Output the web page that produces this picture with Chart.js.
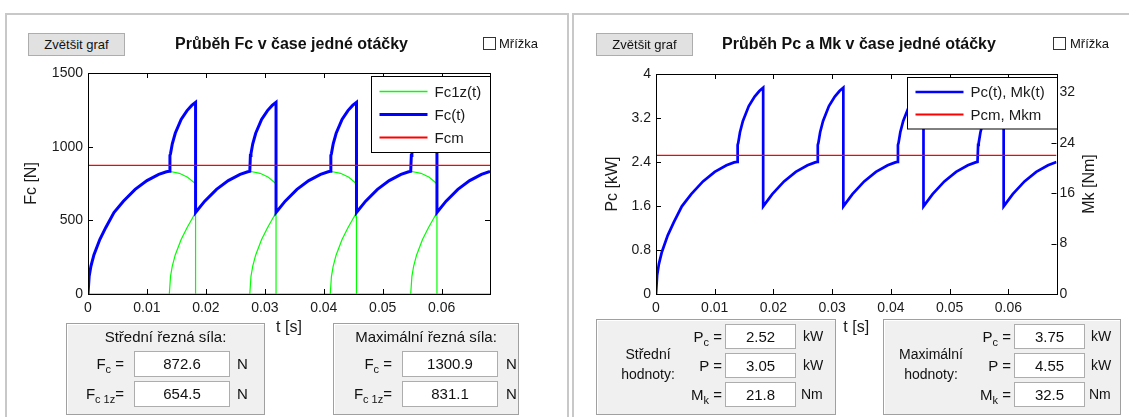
<!DOCTYPE html>
<html>
<head>
<meta charset="utf-8">
<script src="https://cdn.jsdelivr.net/npm/chart.js@4.4.1/dist/chart.umd.min.js"></script>
<style>
  html, body { margin: 0; padding: 0; background: #fff; }
  body { width: 1129px; height: 417px; position: relative; overflow: hidden;
         font-family: 'Liberation Sans', Arial, sans-serif; color: #111; }
  .panel { position: absolute; top: 13px; height: 420px; border: 2px solid #c8c8c8;
           border-bottom: none; box-sizing: border-box; }
  canvas { position: absolute; top: 0; }
  .btn { position: absolute; top: 33px; height: 23px; width: 97px; background: #e1e1e1;
         border: 1px solid #adadad; box-sizing: border-box; font-size: 13px;
         line-height: 21px; text-align: center; }
  .ttl { position: absolute; top: 35px; font-weight: bold; font-size: 16px; line-height: 18px; }
  .chk { position: absolute; top: 37px; width: 13px; height: 13px; background: #fff;
         border: 1px solid #333; box-sizing: border-box; }
  .chkt { position: absolute; top: 36px; font-size: 13px; line-height: 15px; }
  .box { position: absolute; background: #f0f0f0; border: 1px solid #a0a0a0;
         box-shadow: inset 1px 1px 0 #fff; box-sizing: border-box; }
  .t { position: absolute; font-size: 15px; line-height: 26px; white-space: nowrap; }
  .r { text-align: right; }
  .c { text-align: center; }
  .inp { position: absolute; background: #fff; border: 1px solid #adadad; box-sizing: border-box;
         font-size: 15px; text-align: center; }
  sub { font-size: 11px; vertical-align: -4px; line-height: 0; }
</style>
</head>
<body>
<div class="panel" style="left:5px;width:564px"></div>
<div class="panel" style="left:572px;width:562px"></div>

<canvas id="fcChart" width="565" height="345" style="left:0"></canvas>
<canvas id="pcChart" width="564" height="345" style="left:565px"></canvas>

<div class="btn" style="left:28px">Zvětšit graf</div>
<div class="ttl" style="left:175px">Průběh Fc v čase jedné otáčky</div>
<div class="chk" style="left:483px"></div>
<div class="chkt" style="left:499px">Mřížka</div>

<div class="btn" style="left:596px">Zvětšit graf</div>
<div class="ttl" style="left:722px">Průběh Pc a Mk v čase jedné otáčky</div>
<div class="chk" style="left:1053px"></div>
<div class="chkt" style="left:1070px">Mřížka</div>

<!-- left value boxes -->
<div class="box" style="left:66px;top:323px;width:199px;height:92px"></div>
<div class="t c" style="left:66px;width:199px;top:324px">Střední řezná síla:</div>
<div class="t r" style="left:70px;width:54px;top:351px">F<sub>c</sub> =</div>
<div class="inp" style="left:134px;top:351px;width:96px;height:26px;line-height:24px">872.6</div>
<div class="t" style="left:237px;top:351px">N</div>
<div class="t r" style="left:70px;width:54px;top:381px">F<sub>c 1z</sub>=</div>
<div class="inp" style="left:134px;top:381px;width:96px;height:26px;line-height:24px">654.5</div>
<div class="t" style="left:237px;top:381px">N</div>

<div class="box" style="left:333px;top:323px;width:186px;height:92px"></div>
<div class="t c" style="left:333px;width:186px;top:324px">Maximální řezná síla:</div>
<div class="t r" style="left:336px;width:56px;top:351px">F<sub>c</sub> =</div>
<div class="inp" style="left:402px;top:351px;width:96px;height:26px;line-height:24px">1300.9</div>
<div class="t" style="left:506px;top:351px">N</div>
<div class="t r" style="left:336px;width:56px;top:381px">F<sub>c 1z</sub>=</div>
<div class="inp" style="left:402px;top:381px;width:96px;height:26px;line-height:24px">831.1</div>
<div class="t" style="left:506px;top:381px">N</div>

<!-- right value boxes -->
<div class="box" style="left:596px;top:319px;width:240px;height:96px"></div>
<div class="t c" style="left:608px;width:80px;top:344px;line-height:20px;font-size:14px">Střední<br>hodnoty:</div>
<div class="t r" style="left:682px;width:40px;top:324px;line-height:25px">P<sub>c</sub> =</div>
<div class="inp" style="left:725px;top:324px;width:71px;height:25px;line-height:23px">2.52</div>
<div class="t" style="left:803px;top:324px;line-height:25px;font-size:14px">kW</div>
<div class="t r" style="left:682px;width:40px;top:353px;line-height:25px">P =</div>
<div class="inp" style="left:725px;top:353px;width:71px;height:25px;line-height:23px">3.05</div>
<div class="t" style="left:803px;top:353px;line-height:25px;font-size:14px">kW</div>
<div class="t r" style="left:682px;width:40px;top:382px;line-height:25px">M<sub>k</sub> =</div>
<div class="inp" style="left:725px;top:382px;width:71px;height:25px;line-height:23px">21.8</div>
<div class="t" style="left:801px;top:382px;line-height:25px;font-size:14px">Nm</div>

<div class="box" style="left:883px;top:319px;width:238px;height:96px"></div>
<div class="t c" style="left:891px;width:80px;top:344px;line-height:20px;font-size:14px">Maximální<br>hodnoty:</div>
<div class="t r" style="left:970px;width:41px;top:324px;line-height:25px">P<sub>c</sub> =</div>
<div class="inp" style="left:1014px;top:324px;width:71px;height:25px;line-height:23px">3.75</div>
<div class="t" style="left:1091px;top:324px;line-height:25px;font-size:14px">kW</div>
<div class="t r" style="left:970px;width:41px;top:353px;line-height:25px">P =</div>
<div class="inp" style="left:1014px;top:353px;width:71px;height:25px;line-height:23px">4.55</div>
<div class="t" style="left:1091px;top:353px;line-height:25px;font-size:14px">kW</div>
<div class="t r" style="left:970px;width:41px;top:382px;line-height:25px">M<sub>k</sub> =</div>
<div class="inp" style="left:1014px;top:382px;width:71px;height:25px;line-height:23px">32.5</div>
<div class="t" style="left:1089px;top:382px;line-height:25px;font-size:14px">Nm</div>

<script>
// values: t in s, Fc in N, Pc in kW
const tMax = 0.0682;

const fcTime = [
  0, 0.0002, 0.0005, 0.001, 0.002, 0.003, 0.0044, 0.006, 0.008, 0.010, 0.012, 0.0133, 0.0138,
  0.0139, 0.0140, 0.0143, 0.0148, 0.0158, 0.0168, 0.0176, 0.01825,
  0.01825, 0.0198, 0.0218, 0.0238, 0.0258, 0.0271, 0.02745,
  0.02755, 0.02765, 0.02795, 0.02845, 0.02945, 0.03045, 0.03125, 0.0319,
  0.0319, 0.03345, 0.03545, 0.03745, 0.03945, 0.04075, 0.0411,
  0.0412, 0.0413, 0.0416, 0.0421, 0.0431, 0.0441, 0.0449, 0.04555,
  0.04555, 0.0471, 0.0491, 0.0511, 0.0531, 0.0544, 0.05475,
  0.05485, 0.05495, 0.05525, 0.05575, 0.05675, 0.05775, 0.05855, 0.0592,
  0.0592, 0.06075, 0.06275, 0.06475, 0.06675, 0.0682
];
const fcValues = [
  0, 120, 190, 265, 370, 450, 553, 630, 710, 770, 812, 830, 833,
  940, 953, 1020, 1091, 1185, 1245, 1280, 1301,
  553, 630, 710, 770, 812, 830, 833,
  940, 953, 1020, 1091, 1185, 1245, 1280, 1301,
  553, 630, 710, 770, 812, 830, 833,
  940, 953, 1020, 1091, 1185, 1245, 1280, 1301,
  553, 630, 710, 770, 812, 830, 833,
  940, 953, 1020, 1091, 1185, 1245, 1280, 1301,
  553, 630, 710, 770, 812, 832
];
const pcValues = [
  0, 0.346, 0.548, 0.764, 1.067, 1.297, 1.594, 1.816, 2.047, 2.220, 2.341, 2.393, 2.402,
  2.710, 2.747, 2.941, 3.145, 3.416, 3.589, 3.690, 3.751,
  1.594, 1.816, 2.047, 2.220, 2.341, 2.393, 2.402,
  2.710, 2.747, 2.941, 3.145, 3.416, 3.589, 3.690, 3.751,
  1.594, 1.816, 2.047, 2.220, 2.341, 2.393, 2.402,
  2.710, 2.747, 2.941, 3.145, 3.416, 3.589, 3.690, 3.751,
  1.594, 1.816, 2.047, 2.220, 2.341, 2.393, 2.402,
  2.710, 2.747, 2.941, 3.145, 3.416, 3.589, 3.690, 3.751,
  1.594, 1.816, 2.047, 2.220, 2.341, 2.399
];

// single-tooth force, one run per tooth, null = break in the line
const fc1zTime = [
  0, 0.0682, null,
  0, 0.0002, 0.0005, 0.001, 0.002, 0.003, 0.0044, 0.006, 0.008, 0.010, 0.012, 0.0133, 0.0138, 0.0155, 0.0169, 0.01825, 0.01825, null,
  0.0138, 0.0140, 0.0143, 0.0148, 0.0158, 0.0168, 0.01825, 0.0198, 0.0218, 0.0238, 0.0258, 0.0271, 0.02745, 0.0292, 0.0306, 0.0319, 0.0319, null,
  0.02745, 0.02765, 0.02795, 0.02845, 0.02945, 0.03045, 0.0319, 0.03345, 0.03545, 0.03745, 0.03945, 0.04075, 0.0411, 0.04285, 0.04425, 0.04555, 0.04555, null,
  0.0411, 0.0413, 0.0416, 0.0421, 0.0431, 0.0441, 0.04555, 0.0471, 0.0491, 0.0511, 0.0531, 0.0544, 0.05475, 0.0565, 0.0579, 0.0592, 0.0592, null,
  0.05475, 0.05495, 0.05525, 0.05575, 0.05675, 0.05775, 0.0592, 0.06075, 0.06275, 0.06475, 0.06675, 0.0682
];
const fc1zValues = [
  0, 0, null,
  0, 120, 190, 265, 370, 450, 553, 630, 710, 770, 812, 830, 833, 819, 792, 748, 0, null,
  0, 120, 190, 265, 370, 450, 553, 630, 710, 770, 812, 830, 833, 819, 792, 748, 0, null,
  0, 120, 190, 265, 370, 450, 553, 630, 710, 770, 812, 830, 833, 819, 792, 748, 0, null,
  0, 120, 190, 265, 370, 450, 553, 630, 710, 770, 812, 830, 833, 819, 792, 748, 0, null,
  0, 120, 190, 265, 370, 450, 553, 630, 710, 770, 812, 832
];

const fcMean = 872.6;
const pcMean = 2.52;

const fcLabels = ['Fc1z(t)', 'Fc(t)', 'Fcm'];
const pcLabels = ['Pc(t), Mk(t)', 'Pcm, Mkm'];

const FONT = "'Liberation Sans', Arial, sans-serif";
Chart.defaults.font.family = FONT;
Chart.defaults.color = '#1a1a1a';

function pts(xs, ys) {
  return xs.map((x, i) => ({ x: x, y: ys[i] }));
}
function fmt(v) {
  return String(+v.toFixed(3));
}

// MATLAB look: boxed axes, inward ticks, legend inside the plot
const matlabAxes = {
  id: 'matlabAxes',
  afterDatasetsDraw(chart) {
    const { ctx, chartArea: a, scales } = chart;
    const tl = 5;
    const line = (x1, y1, x2, y2) => { ctx.moveTo(x1, y1); ctx.lineTo(x2, y2); };
    ctx.save();
    ctx.strokeStyle = '#000';
    ctx.lineWidth = 1;
    ctx.beginPath();
    scales.x.ticks.forEach(t => {
      const px = Math.round(scales.x.getPixelForValue(t.value)) + 0.5;
      line(px, a.bottom, px, a.bottom - tl);
      line(px, a.top, px, a.top + tl);
    });
    scales.y.ticks.forEach(t => {
      const py = Math.round(scales.y.getPixelForValue(t.value)) + 0.5;
      line(a.left, py, a.left + tl, py);
      if (!scales.y2) line(a.right, py, a.right - tl, py);
    });
    if (scales.y2) {
      scales.y2.ticks.forEach(t => {
        const py = Math.round(scales.y2.getPixelForValue(t.value)) + 0.5;
        line(a.right, py, a.right - tl, py);
      });
    }
    ctx.stroke();
    ctx.strokeRect(Math.round(a.left) + 0.5, Math.round(a.top) + 0.5,
      Math.round(a.right - a.left), Math.round(a.bottom - a.top));
    ctx.restore();
  },
  afterDraw(chart, args, opts) {
    const { ctx, chartArea: a } = chart;
    if (opts.y2Title) {
      ctx.save();
      ctx.translate(opts.y2Title.x, (a.top + a.bottom) / 2);
      ctx.rotate(-Math.PI / 2);
      ctx.font = '16px ' + FONT;
      ctx.fillStyle = '#1a1a1a';
      ctx.textAlign = 'center';
      ctx.textBaseline = 'middle';
      ctx.fillText(opts.y2Title.text, 0, 0);
      ctx.restore();
    }
    const lg = opts.legend;
    if (!lg) return;
    const ds = chart.data.datasets;
    const bx = Math.round(a.right - lg.w) + 0.5;
    const by = Math.round(a.top + 3) + 0.5;
    const h = lg.rowH * (ds.length - 1) + 2 * lg.first;
    ctx.save();
    ctx.fillStyle = '#fff';
    ctx.fillRect(bx, by, lg.w, h);
    ctx.strokeStyle = '#000';
    ctx.lineWidth = 1;
    ctx.strokeRect(bx, by, lg.w, h);
    ctx.font = lg.size + 'px ' + FONT;
    ctx.textBaseline = 'middle';
    ds.forEach((d, i) => {
      const cy = by + lg.first + i * lg.rowH;
      ctx.beginPath();
      ctx.strokeStyle = d.borderColor;
      ctx.lineWidth = d.legendWidth || d.borderWidth;
      ctx.moveTo(bx + 8, cy);
      ctx.lineTo(bx + 56, cy);
      ctx.stroke();
      ctx.fillStyle = '#1a1a1a';
      ctx.fillText(d.label, bx + 63, cy + 1);
    });
    ctx.restore();
  }
};

function xScale() {
  return {
    type: 'linear', min: 0, max: tMax,
    grid: { display: false, drawTicks: false },
    border: { display: false },
    ticks: { stepSize: 0.01, includeBounds: false, autoSkip: false, maxRotation: 0,
             padding: 6, font: { size: 14 }, callback: v => fmt(v) },
    title: { display: true, text: 't [s]', font: { size: 16 }, padding: { top: 0, bottom: 8 } },
    afterFit: s => { s.height = 51; }
  };
}

new Chart(document.getElementById('fcChart'), {
  type: 'line',
  data: {
    datasets: [
      { label: fcLabels[0], data: pts(fc1zTime, fc1zValues), borderColor: '#00ff00',
        borderWidth: 1.2, legendWidth: 1.5, order: 2 },
      { label: fcLabels[1], data: pts(fcTime, fcValues), borderColor: '#0000ff',
        borderWidth: 3, order: 1 },
      { label: fcLabels[2], data: pts([0, tMax], [fcMean, fcMean]), borderColor: '#ff0000',
        borderWidth: 1.3, legendWidth: 2, order: 0 }
    ]
  },
  options: {
    responsive: false, animation: false, devicePixelRatio: 1,
    layout: { padding: { left: 0, right: 75, top: 73, bottom: 0 } },
    elements: { point: { radius: 0 }, line: { tension: 0 } },
    plugins: {
      legend: { display: false }, tooltip: { enabled: false },
      matlabAxes: { legend: { w: 119, rowH: 23, first: 15, size: 15 } }
    },
    scales: {
      x: xScale(),
      y: {
        min: 0, max: 1500,
        grid: { display: false, drawTicks: false },
        border: { display: false },
        ticks: { stepSize: 500, padding: 5, font: { size: 14 }, callback: v => fmt(v) },
        title: { display: true, text: 'Fc [N]', font: { size: 16 }, padding: { top: 22, bottom: 0 } },
        afterFit: s => { s.width = 88; }
      }
    }
  },
  plugins: [matlabAxes]
});

new Chart(document.getElementById('pcChart'), {
  type: 'line',
  data: {
    datasets: [
      { label: pcLabels[0], data: pts(fcTime, pcValues), borderColor: '#0000ff',
        borderWidth: 2.7, order: 1 },
      { label: pcLabels[1], data: pts([0, tMax], [pcMean, pcMean]), borderColor: '#ff0000',
        borderWidth: 1.3, legendWidth: 2, order: 0 }
    ]
  },
  options: {
    responsive: false, animation: false, devicePixelRatio: 1,
    layout: { padding: { left: 0, right: 0, top: 74, bottom: 0 } },
    elements: { point: { radius: 0 }, line: { tension: 0 } },
    plugins: {
      legend: { display: false }, tooltip: { enabled: false },
      matlabAxes: { legend: { w: 150, rowH: 22.5, first: 14.5, size: 15 },
                    y2Title: { text: 'Mk [Nm]', x: 525 } }
    },
    scales: {
      x: xScale(),
      y: {
        position: 'left', min: 0, max: 4,
        grid: { display: false, drawTicks: false },
        border: { display: false },
        ticks: { stepSize: 0.8, padding: 5, font: { size: 14 }, callback: v => fmt(v) },
        title: { display: true, text: 'Pc [kW]', font: { size: 16 }, padding: { top: 38, bottom: 0 } },
        afterFit: s => { s.width = 91; }
      },
      y2: {
        position: 'right', min: 0, max: 34.9,
        grid: { display: false, drawTicks: false },
        border: { display: false },
        ticks: { stepSize: 8, includeBounds: false, padding: 3, font: { size: 14 } },
        afterFit: s => { s.width = 72.5; }
      }
    }
  },
  plugins: [matlabAxes]
});
</script>
</body>
</html>
